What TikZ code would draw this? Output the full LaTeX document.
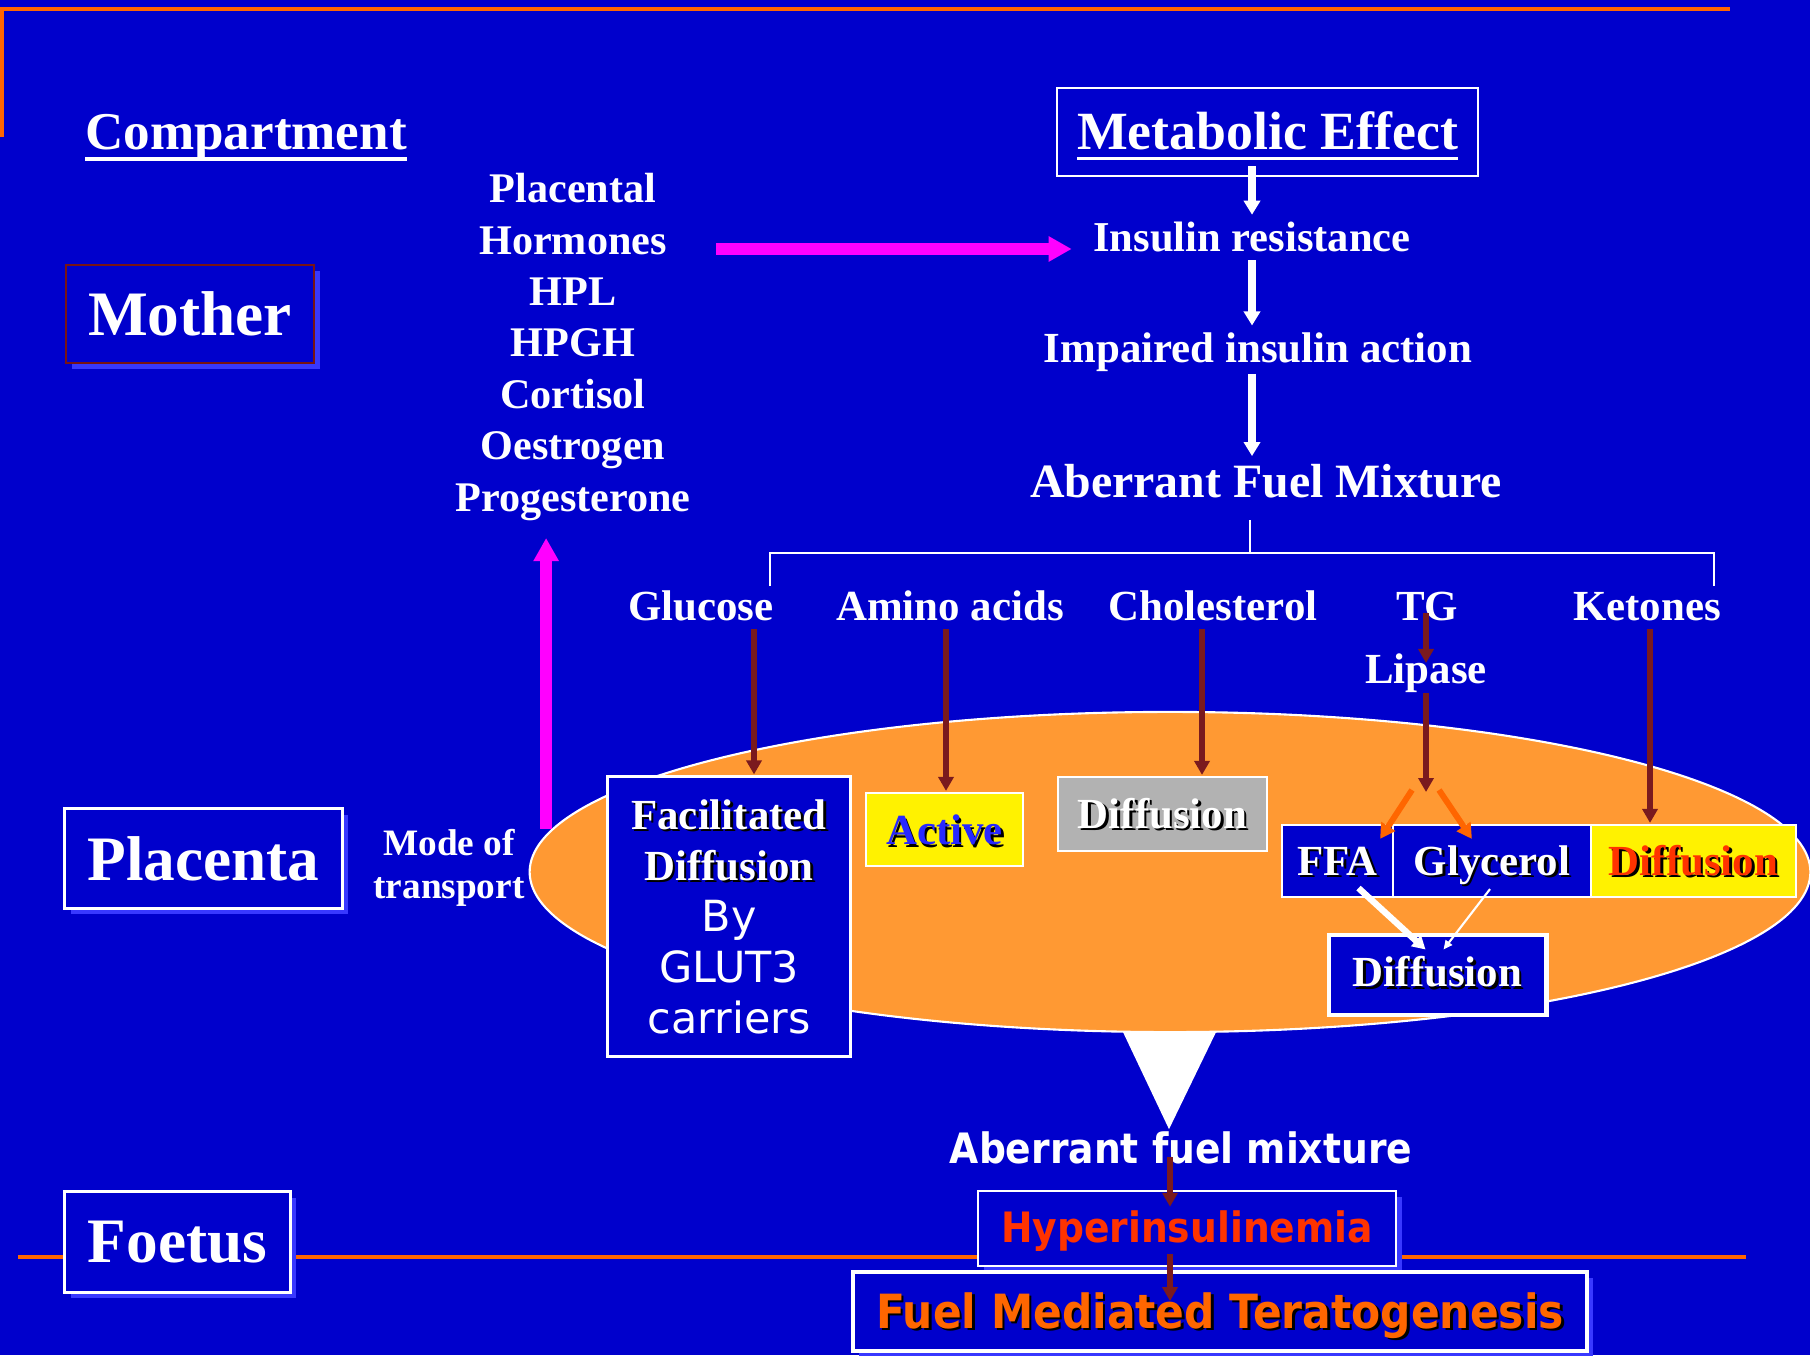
\documentclass[tikz,border=0pt]{standalone}
\usepackage{fontspec}
\setmainfont{Liberation Serif}
\newfontfamily\verdana{DejaVu Sans}
\newfontfamily\tahoma{DejaVu Sans}[FakeStretch=0.9]
\usetikzlibrary{arrows.meta,calc,shapes.geometric,shadows}

\definecolor{slideblue}{RGB}{0,0,204}
\definecolor{shadeblue}{RGB}{56,56,255}
\definecolor{lineorange}{RGB}{255,102,0}
\definecolor{placorange}{RGB}{255,153,51}
\definecolor{hormpink}{RGB}{255,0,255}
\definecolor{darkbrown}{RGB}{122,26,30}
\definecolor{motherred}{RGB}{120,20,20}
\definecolor{activeblue}{RGB}{40,40,255}
\definecolor{boxgrey}{RGB}{178,178,178}
\definecolor{hotred}{RGB}{255,51,0}

\newsavebox\ulbox
\newcommand\undl[1]{\sbox\ulbox{#1}\rlap{\rule[-3pt]{\wd\ulbox}{1.1pt}}\usebox\ulbox}
\newcommand\shtxt[1]{\leavevmode\rlap{\kern0.7pt\raisebox{-0.7pt}{\color{black}#1}}#1}

\begin{document}
\begin{tikzpicture}[x=0.01cm, y=-0.01cm,
    lbl/.style={text=white, inner sep=2pt, anchor=base, font=\fontsize{#1}{#1}\selectfont\bfseries},
    sanslbl/.style={text=white, inner sep=2pt, anchor=base, font=\fontsize{#1}{#1}\selectfont\tahoma\bfseries},
    blueshadow/.style={drop shadow={shadow xshift=0.06cm, shadow yshift=-0.06cm, fill=shadeblue, opacity=1}},
    compbox/.style={draw=white, fill=slideblue, line width=0.85pt, text=white, inner sep=0pt,
      font=\fontsize{18}{18}\selectfont\bfseries, blueshadow},
    tbox/.style={draw=white, line width=0.6pt, inner sep=0pt, text height=#1, text depth=0pt,
      font=\fontsize{12.2}{12.2}\selectfont\bfseries},
    warrow/.style={white, line width=2.2pt, -{Triangle[length=0.14cm, width=0.16cm]}},
    pinkarrow/.style={hormpink, line width=3.4pt, -{Triangle[length=0.23cm, width=0.24cm]}},
    brownarrow/.style={darkbrown, line width=1.7pt, -{Triangle[length=0.14cm, width=0.15cm]}},
    orangearrow/.style={lineorange, line width=1.7pt, -{Triangle[length=0.15cm, width=0.16cm]}},
    forkline/.style={white, line width=0.6pt}]

  \fill[slideblue] (0,0) rectangle (1810,1355);
  \useasboundingbox (0,0) rectangle (1810,1355);

  % slide rules
  \draw[lineorange, line width=1.14pt] (2,137) -- (2,9) -- (1730,9);
  \draw[lineorange, line width=1.14pt] (18,1257) -- (1746,1257);

  % compartments
  \node[lbl=15.1] (cmp) at (246,150) {\undl{Compartment}};
  \node[compbox, draw=motherred, line width=0.7pt, minimum width=2.48cm, minimum height=0.98cm] (mother) at (190,314) {Mother};
  \node[compbox, minimum width=2.77cm, minimum height=0.99cm] (placenta) at (203.5,858.5) {Placenta};
  \node[compbox, minimum width=2.25cm, minimum height=1cm] (foetus) at (177.5,1242) {Foetus};

  % mother: hormones and metabolic chain
  \node[text=white, align=center, inner sep=2pt, font=\fontsize{12}{14.6}\selectfont\bfseries] (horm) at (573,347)
    {Placental\\Hormones\\HPL\\HPGH\\Cortisol\\Oestrogen\\Progesterone};
  \node[draw=white, line width=0.6pt, text=white, inner sep=0pt, minimum width=4.21cm, minimum height=0.88cm,
    text height=10.2pt, text depth=0pt, font=\fontsize{15.3}{15.3}\selectfont\bfseries] (met) at (1267.5,132) {\undl{Metabolic Effect}};
  \node[lbl=12.1] (ins) at (1252,252) {Insulin resistance};
  \node[lbl=12.2] (imp) at (1258,363) {Impaired insulin action};
  \node[lbl=13.6] (afm) at (1266,497) {Aberrant Fuel Mixture};

  \node[lbl=12.2] (glc) at (701,620) {Glucose};
  \node[lbl=12.2] (ami) at (950,620) {Amino acids};
  \node[lbl=12.2] (chl) at (1213,620) {Cholesterol};
  \node[lbl=12.2] (tg) at (1427,620) {TG};
  \node[lbl=12.2] (ket) at (1647,620) {Ketones};
  \node[lbl=12.2] (lip) at (1426,683) {Lipase};

  % placenta
  \node[ellipse, draw=white, fill=placorange, line width=0.6pt, minimum width=12.8cm, minimum height=3.2cm, inner sep=0pt] (plac) at (1170,872) {};
  \fill[white] ($(plac.south)+(-47,-1)$) -- ($(plac.south)+(46,-1)$) -- ($(plac.south)+(-1,96)$) -- cycle;
  \node[text=white, align=center, inner sep=2pt, font=\fontsize{10.6}{12.2}\selectfont\bfseries] (mode) at (449,868) {Mode of\\transport};

  \node[draw=white, fill=slideblue, line width=0.85pt, text=white, inner sep=0pt, minimum width=2.42cm, minimum height=2.79cm,
    align=center, font=\fontsize{12.2}{14.5}\selectfont\bfseries] (fac) at (729,916.5)
    {\shtxt{Facilitated}\\\shtxt{Diffusion}\\{\verdana\mdseries By}\\{\verdana\mdseries GLUT3}\\{\verdana\mdseries carriers}};
  \node[tbox=8.8pt, fill=yellow, minimum width=1.57cm, minimum height=0.73cm, text=activeblue] (act) at (944.5,829.5) {\shtxt{Active}};
  \node[tbox=8pt, fill=boxgrey, minimum width=2.09cm, minimum height=0.74cm, text=white] (gry) at (1162.5,814) {\shtxt{Diffusion}};
  \node[tbox=8pt, fill=slideblue, minimum width=1.11cm, minimum height=0.72cm, text=white] (ffa) at (1337.5,861) {\shtxt{FFA}};
  \node[tbox=8pt, fill=slideblue, minimum width=1.98cm, minimum height=0.72cm, text=white] (gly) at (1492,861) {\shtxt{Glycerol}};
  \node[tbox=8pt, fill=yellow, minimum width=2.05cm, minimum height=0.72cm, text=hotred] (ydif) at (1693.5,861) {\shtxt{Diffusion}};
  \node[tbox=6.8pt, fill=slideblue, line width=1.4pt, minimum width=2.17cm, minimum height=0.8cm, text=white] (ldif) at (1437.5,975) {\shtxt{Diffusion}};

  % foetus
  \node[sanslbl=11.9] (afx) at (1181,1163) {Aberrant fuel mixture};
  \node[draw=white, fill=slideblue, line width=0.7pt, inner sep=0pt, minimum width=4.18cm, minimum height=0.75cm,
    text height=7.7pt, text depth=0pt, text=hotred, font=\fontsize{11.9}{11.9}\selectfont\tahoma\bfseries, blueshadow] (hyp) at (1187,1228.5) {Hyperinsulinemia};
  \node[draw=white, fill=slideblue, line width=1.1pt, inner sep=0pt, minimum width=7.34cm, minimum height=0.79cm,
    text height=9.4pt, text depth=0pt, text=lineorange, font=\fontsize{13.4}{13.4}\selectfont\tahoma\bfseries, blueshadow] (fmt) at (1220,1311.5) {\shtxt{Fuel Mediated Teratogenesis}};

  % connectors
  \draw[warrow] ($(met.south -| ins.north)+(0,-11)$) -- (ins.north);
  \draw[warrow] (ins.south) -- (ins.south |- imp.north);
  \draw[warrow] ($(ins.south |- imp.south)+(0,-6)$) -- (ins.south |- afm.north);
  \draw[pinkarrow] ($(horm.east |- ins.base)+(18,-3)$) -- ($(ins.base west)+(-14,-3)$);
  \draw[pinkarrow] ($(plac.176.7)+(-6,0)$) -- ($(plac.176.7 |- horm.south)+(-6,10)$);

  \coordinate (forkL) at (770,586);
  \coordinate (forkR) at (1714,586);
  \coordinate (fork) at (1250,553);
  \coordinate (split) at (1426,792);
  \draw[forkline] ($(afm.base)+(-16,23)$) -- (fork);
  \draw[forkline] (forkL) |- (fork) -| (forkR);

  \draw[brownarrow] ($(glc.base)+(53,9)$) -- ($(glc.base |- fac.north)+(53,-1)$);
  \draw[brownarrow] ($(ami.base)+(-4,9)$) -- ($(ami.base |- act.north)+(-4,-1)$);
  \draw[brownarrow] ($(chl.base)+(-11,9)$) -- ($(chl.base |- gry.north)+(-11,-1)$);
  \draw[brownarrow] ($(tg.base)+(-1,-7)$) -- ($(lip.base)+(0,-20)$);
  \draw[brownarrow] ($(lip.base)+(0,10)$) -- (split);
  \draw[brownarrow] ($(ket.base)+(3,9)$) -- ($(ket.base |- ydif.north)+(3,-1)$);
  \draw[orangearrow] ($(split)+(-14,-2)$) -- ($(ffa.north east)+(-14,15)$);
  \draw[orangearrow] ($(split)+(13,-2)$) -- ($(gly.north west)+(80,15)$);
  \draw[white, line width=1.8pt, -{Triangle[length=0.13cm, width=0.14cm]}] ($(ffa.south)+(21,-10)$) -- ($(ldif.north)+(-12,17)$);
  \draw[white, line width=0.6pt, -{Triangle[length=0.09cm, width=0.08cm]}] ($(gly.south)+(-2,-9)$) -- ($(ldif.north)+(6,17)$);

  \draw[brownarrow] ($(afx.base)+(-11,-6)$) -- ($(hyp.north)+(-17,17)$);
  \draw[brownarrow] ($(hyp.south)+(-17,-13)$) -- ($(fmt.north)+(-50,31)$);
\end{tikzpicture}
\end{document}
